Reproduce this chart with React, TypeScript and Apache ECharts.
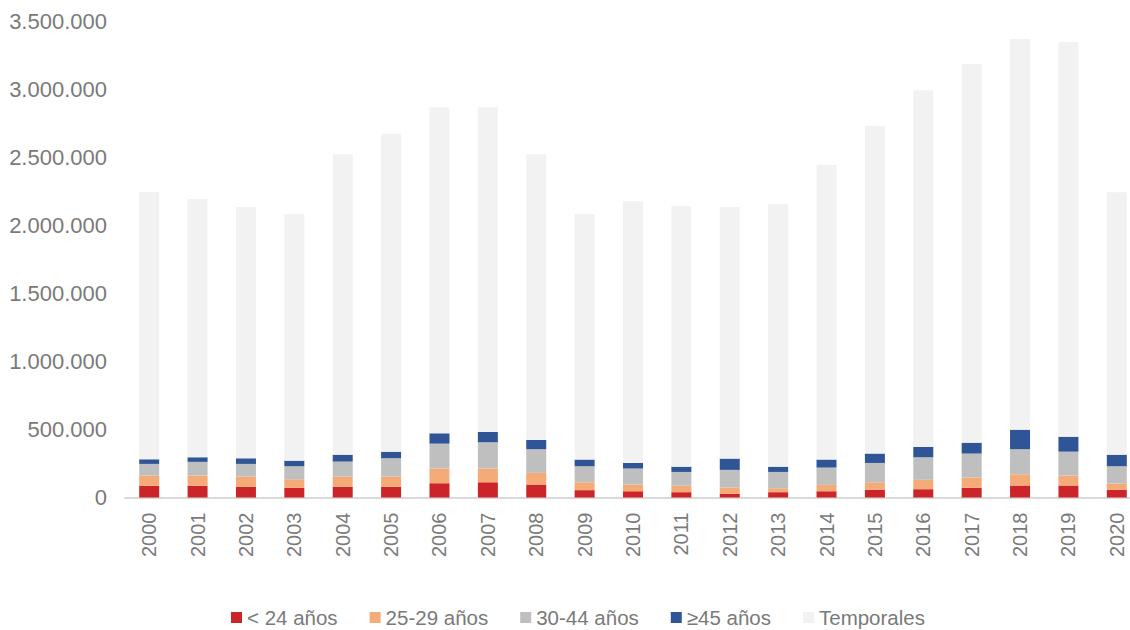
import React, { useEffect, useRef } from "react";
import * as echarts from "echarts";

// Years on the category axis
const years = [
  "2000", "2001", "2002", "2003", "2004", "2005", "2006", "2007", "2008", "2009", "2010",
  "2011", "2012", "2013", "2014", "2015", "2016", "2017", "2018", "2019", "2020",
];

// Indefinite contracts by age group, plus temporary contracts stacked on top
const menores24 = [86000, 86000, 78000, 71000, 78000, 78000, 105000, 112000, 95000, 54000, 46000, 39000, 27000, 39000, 46000, 56000, 61000, 71000, 88000, 88000, 56000];
const de25a29 = [75000, 75000, 76000, 63000, 76000, 76000, 108000, 101000, 86000, 58000, 49000, 47000, 46000, 29000, 47000, 56000, 69000, 76000, 83000, 73000, 47000];
const de30a44 = [86000, 101000, 93000, 96000, 110000, 135000, 183000, 193000, 174000, 118000, 118000, 102000, 130000, 120000, 127000, 142000, 166000, 176000, 184000, 176000, 127000];
const mayores45 = [34000, 34000, 41000, 41000, 51000, 48000, 76000, 76000, 68000, 49000, 41000, 39000, 83000, 39000, 59000, 69000, 76000, 80000, 144000, 110000, 85000];
const temporales = [1965000, 1899000, 1848000, 1814000, 2209000, 2338000, 2397000, 2387000, 2101000, 1806000, 1924000, 1916000, 1850000, 1931000, 2166000, 2409000, 2622000, 2785000, 2872000, 2902000, 1929000];

const seriesNames = ["< 24 años", "25-29 años", "30-44 años", "≥45 años", "Temporales"];
const seriesColors = ["#cc2529", "#f4ab77", "#bfbfbf", "#2f5597", "#f2f2f2"];
const seriesData = [menores24, de25a29, de30a44, mayores45, temporales];

const FONT = "'Liberation Sans', Arial, sans-serif";
const TEXT_COLOR = "#7a7a7a";

function formatThousands(v: number): string {
  return String(Math.round(v)).replace(/\B(?=(\d{3})+(?!\d))/g, ".");
}

export default function App() {
  const ref = useRef<HTMLDivElement>(null);

  useEffect(() => {
    if (!ref.current) return;
    const chart = echarts.init(ref.current, undefined, { renderer: "svg" });
    chart.setOption({
      animation: false,
      backgroundColor: "#ffffff",
      textStyle: { fontFamily: FONT },
      grid: { left: 125, right: 4, top: 21.5, bottom: 132.5, containLabel: false },
      legend: {
        left: 226,
        top: 602,
        itemWidth: 11,
        itemHeight: 11,
        itemGap: 32,
        icon: "rect",
        textStyle: { color: TEXT_COLOR, fontSize: 20.5, fontFamily: FONT },
        data: seriesNames,
      },
      xAxis: {
        type: "category",
        data: years,
        axisLine: { show: true, lineStyle: { color: "#d9d9d9", width: 2 } },
        axisTick: { show: false },
        axisLabel: {
          rotate: 90,
          margin: 15,
          color: TEXT_COLOR,
          fontSize: 20,
          fontFamily: FONT,
          interval: 0,
        },
      },
      yAxis: {
        type: "value",
        min: 0,
        max: 3500000,
        interval: 500000,
        splitLine: { show: false },
        axisLine: { show: false },
        axisTick: { show: false },
        axisLabel: {
          margin: 18,
          color: TEXT_COLOR,
          fontSize: 22,
          fontFamily: FONT,
          formatter: (v: number) => formatThousands(v),
        },
      },
      series: seriesNames.map((name, i) => ({
        name,
        type: "bar",
        stack: "total",
        barWidth: 20,
        data: seriesData[i],
        itemStyle: { color: seriesColors[i] },
        emphasis: { disabled: true },
      })),
    });
    return () => chart.dispose();
  }, []);

  return (
    <div
      ref={ref}
      style={{ position: "fixed", left: 0, top: 0, width: 1145, height: 630, background: "#fff" }}
    />
  );
}
